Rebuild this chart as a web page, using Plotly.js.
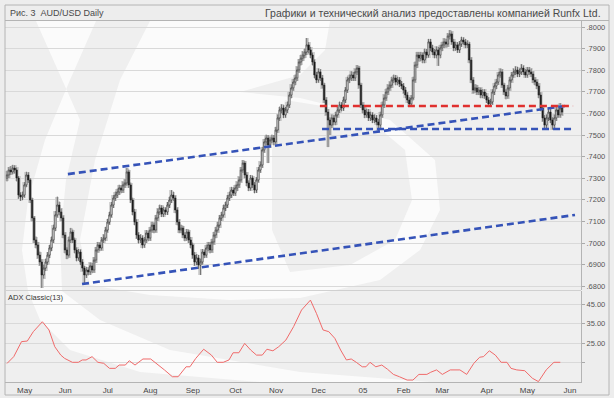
<!DOCTYPE html>
<html><head><meta charset="utf-8">
<script src="https://cdn.plot.ly/plotly-3.0.1.min.js"></script>
<style>html,body{margin:0;padding:0;background:#ededed}#chart{width:614px;height:398px}</style>
</head><body><div id="chart"></div>
<script>
// ---- DATA (AUD/USD daily) ----
const openP = [.7300,.7315,.7338,.7329,.7347,.7338,.7301,.7222,.7213,.7222,.7269,.7315,.7292,.7199,.7116,.7014,.6991,.6944,.6912,.6852,
.6884,.6912,.6944,.6977,.7014,.7069,.7130,.7176,.7144,.7116,.7037,.6968,.6944,.7014,.7051,.7014,.6968,.6931,.6958,.6912,
.6884,.6852,.6875,.6866,.6894,.6875,.6921,.6968,.6991,.6977,.7014,.7023,.7060,.7097,.7130,.7176,.7208,.7222,.7236,.7255,
.7245,.7269,.7278,.7329,.7269,.7199,.7144,.7097,.7037,.7014,.7023,.6991,.7014,.7046,.7023,.7060,.7083,.7060,.7116,.7144,
.7162,.7134,.7153,.7144,.7176,.7199,.7222,.7208,.7153,.7097,.7060,.7069,.7037,.7023,.7051,.7014,.6991,.6944,.6912,.6931,
.6898,.6912,.6958,.6944,.6977,.6991,.6968,.7005,.7037,.7060,.7083,.7116,.7130,.7162,.7176,.7208,.7222,.7245,.7231,.7255,
.7269,.7292,.7338,.7370,.7315,.7278,.7255,.7301,.7269,.7245,.7292,.7338,.7361,.7431,.7468,.7486,.7454,.7477,.7486,.7468,
.7523,.7579,.7616,.7625,.7593,.7616,.7639,.7685,.7718,.7745,.7764,.7801,.7838,.7856,.7870,.7884,.7917,.7894,.7870,.7838,
.7778,.7755,.7792,.7764,.7731,.7662,.7606,.7569,.7546,.7579,.7560,.7593,.7616,.7639,.7625,.7662,.7708,.7755,.7764,.7778,
.7764,.7792,.7810,.7731,.7639,.7616,.7593,.7606,.7579,.7593,.7569,.7579,.7560,.7546,.7593,.7639,.7671,.7699,.7718,.7731,
.7755,.7764,.7745,.7755,.7736,.7727,.7708,.7685,.7662,.7644,.7671,.7755,.7824,.7870,.7856,.7870,.7847,.7884,.7870,.7931,
.7903,.7884,.7870,.7894,.7870,.7903,.7917,.7931,.7921,.7958,.7968,.7931,.7903,.7917,.7894,.7921,.7940,.7931,.7917,.7921,
.7847,.7755,.7708,.7718,.7699,.7708,.7685,.7699,.7681,.7662,.7644,.7653,.7699,.7727,.7745,.7778,.7792,.7731,.7699,.7681,
.7718,.7755,.7778,.7792,.7801,.7782,.7792,.7810,.7792,.7778,.7801,.7792,.7782,.7755,.7745,.7727,.7685,.7625,.7579,.7546,
.7579,.7606,.7569,.7546,.7579,.7616,.7593,.7625];
const highP = [.7335,.7352,.7356,.7362,.7360,.7350,.7310,.7235,.7238,.7282,.7330,.7328,.7300,.7210,.7125,.7030,.7005,.6960,.6925,.6900,
.6928,.6958,.6992,.7030,.7085,.7148,.7215,.7192,.7160,.7128,.7050,.6980,.7030,.7070,.7062,.7025,.6980,.6972,.6970,.6925,
.6895,.6890,.6888,.6910,.6908,.6935,.6982,.7005,.7003,.7028,.7040,.7075,.7112,.7145,.7190,.7222,.7238,.7252,.7270,.7268,
.7285,.7295,.7347,.7340,.7280,.7210,.7158,.7110,.7050,.7040,.7035,.7028,.7060,.7058,.7075,.7098,.7095,.7130,.7160,.7178,
.7175,.7168,.7165,.7190,.7215,.7245,.7238,.7220,.7165,.7110,.7085,.7080,.7050,.7065,.7062,.7028,.7002,.6958,.6948,.6945,
.6928,.6972,.6970,.6992,.7005,.7005,.7020,.7052,.7075,.7098,.7130,.7145,.7178,.7192,.7222,.7238,.7260,.7258,.7270,.7285,
.7308,.7352,.7384,.7380,.7328,.7290,.7315,.7312,.7282,.7305,.7352,.7378,.7445,.7482,.7502,.7500,.7492,.7502,.7500,.7538,
.7595,.7632,.7642,.7638,.7630,.7655,.7700,.7735,.7760,.7780,.7818,.7852,.7872,.7888,.7900,.7949,.7930,.7908,.7882,.7850,
.7792,.7808,.7805,.7778,.7742,.7675,.7620,.7582,.7595,.7592,.7608,.7630,.7655,.7652,.7678,.7722,.7770,.7780,.7795,.7792,
.7808,.7824,.7820,.7742,.7652,.7630,.7622,.7620,.7608,.7605,.7595,.7592,.7575,.7608,.7655,.7688,.7715,.7735,.7748,.7770,
.7780,.7778,.7770,.7768,.7750,.7740,.7722,.7698,.7675,.7685,.7770,.7840,.7885,.7885,.7885,.7882,.7900,.7898,.7945,.7945,
.7918,.7898,.7910,.7908,.7918,.7932,.7948,.7945,.7972,.7986,.7980,.7945,.7932,.7930,.7935,.7955,.7952,.7945,.7938,.7932,
.7860,.7768,.7735,.7732,.7722,.7720,.7712,.7712,.7695,.7675,.7668,.7712,.7742,.7760,.7792,.7808,.7805,.7742,.7712,.7732,
.7770,.7792,.7808,.7818,.7815,.7808,.7828,.7822,.7805,.7815,.7815,.7808,.7795,.7768,.7758,.7740,.7698,.7638,.7592,.7595,
.7622,.7620,.7582,.7595,.7632,.7640,.7648,.7640];
const lowP = [.7285,.7300,.7315,.7318,.7322,.7285,.7205,.7195,.7198,.7210,.7258,.7278,.7185,.7100,.7000,.6975,.6928,.6895,.6792,.6835,
.6870,.6898,.6930,.6962,.7000,.7055,.7118,.7128,.7100,.7022,.6952,.6925,.6932,.7000,.7000,.6952,.6915,.6918,.6898,.6868,
.6815,.6838,.6850,.6852,.6860,.6862,.6908,.6955,.6962,.6965,.7000,.7010,.7048,.7085,.7118,.7162,.7195,.7208,.7222,.7230,
.7232,.7255,.7265,.7255,.7185,.7128,.7082,.7020,.6998,.7000,.6975,.6978,.7000,.7008,.7010,.7048,.7045,.7048,.7102,.7130,
.7120,.7120,.7130,.7130,.7162,.7185,.7195,.7138,.7082,.7045,.7045,.7022,.7008,.7010,.7000,.6975,.6928,.6895,.6898,.6880,
.6852,.6900,.6930,.6932,.6962,.6952,.6955,.6992,.7022,.7048,.7070,.7102,.7118,.7148,.7162,.7195,.7208,.7218,.7218,.7240,
.7255,.7280,.7325,.7300,.7262,.7240,.7242,.7255,.7230,.7232,.7280,.7325,.7348,.7418,.7452,.7370,.7440,.7462,.7452,.7455,
.7510,.7565,.7600,.7578,.7580,.7602,.7625,.7670,.7705,.7730,.7750,.7788,.7822,.7842,.7855,.7870,.7878,.7855,.7822,.7762,
.7740,.7742,.7750,.7715,.7648,.7590,.7444,.7500,.7532,.7545,.7545,.7580,.7602,.7610,.7612,.7648,.7695,.7740,.7750,.7750,
.7750,.7778,.7715,.7625,.7600,.7578,.7580,.7565,.7565,.7555,.7555,.7545,.7514,.7532,.7580,.7625,.7658,.7685,.7705,.7718,
.7740,.7730,.7730,.7722,.7712,.7692,.7670,.7648,.7630,.7632,.7660,.7742,.7810,.7840,.7842,.7832,.7832,.7855,.7858,.7888,
.7870,.7855,.7855,.7820,.7855,.7888,.7902,.7905,.7908,.7942,.7918,.7888,.7890,.7880,.7880,.7908,.7918,.7902,.7902,.7832,
.7740,.7692,.7695,.7685,.7685,.7670,.7670,.7668,.7648,.7632,.7632,.7640,.7685,.7712,.7732,.7765,.7718,.7685,.7665,.7668,
.7705,.7742,.7765,.7778,.7768,.7768,.7778,.7778,.7765,.7765,.7778,.7768,.7740,.7730,.7712,.7670,.7610,.7562,.7528,.7532,
.7565,.7555,.7525,.7532,.7565,.7580,.7580,.7590];
const closeP = [.7315,.7338,.7329,.7347,.7338,.7301,.7222,.7213,.7222,.7269,.7315,.7292,.7199,.7116,.7014,.6991,.6944,.6912,.6852,.6884,
.6912,.6944,.6977,.7014,.7069,.7130,.7176,.7144,.7116,.7037,.6968,.6944,.7014,.7051,.7014,.6968,.6931,.6958,.6912,.6884,
.6852,.6875,.6866,.6894,.6875,.6921,.6968,.6991,.6977,.7014,.7023,.7060,.7097,.7130,.7176,.7208,.7222,.7236,.7255,.7245,
.7269,.7278,.7329,.7269,.7199,.7144,.7097,.7037,.7014,.7023,.6991,.7014,.7046,.7023,.7060,.7083,.7060,.7116,.7144,.7162,
.7134,.7153,.7144,.7176,.7199,.7222,.7208,.7153,.7097,.7060,.7069,.7037,.7023,.7051,.7014,.6991,.6944,.6912,.6931,.6898,
.6912,.6958,.6944,.6977,.6991,.6968,.7005,.7037,.7060,.7083,.7116,.7130,.7162,.7176,.7208,.7222,.7245,.7231,.7255,.7269,
.7292,.7338,.7370,.7315,.7278,.7255,.7301,.7269,.7245,.7292,.7338,.7361,.7431,.7468,.7486,.7454,.7477,.7486,.7468,.7523,
.7579,.7616,.7625,.7593,.7616,.7639,.7685,.7718,.7745,.7764,.7801,.7838,.7856,.7870,.7884,.7917,.7894,.7870,.7838,.7778,
.7755,.7792,.7764,.7731,.7662,.7606,.7569,.7546,.7579,.7560,.7593,.7616,.7639,.7625,.7662,.7708,.7755,.7764,.7778,.7764,
.7792,.7810,.7731,.7639,.7616,.7593,.7606,.7579,.7593,.7569,.7579,.7560,.7546,.7593,.7639,.7671,.7699,.7718,.7731,.7755,
.7764,.7745,.7755,.7736,.7727,.7708,.7685,.7662,.7644,.7671,.7755,.7824,.7870,.7856,.7870,.7847,.7884,.7870,.7931,.7903,
.7884,.7870,.7894,.7870,.7903,.7917,.7931,.7921,.7958,.7968,.7931,.7903,.7917,.7894,.7921,.7940,.7931,.7917,.7921,.7847,
.7755,.7708,.7718,.7699,.7708,.7685,.7699,.7681,.7662,.7644,.7653,.7699,.7727,.7745,.7778,.7792,.7731,.7699,.7681,.7718,
.7755,.7778,.7792,.7801,.7782,.7792,.7810,.7792,.7778,.7801,.7792,.7782,.7755,.7745,.7727,.7685,.7625,.7579,.7546,.7579,
.7606,.7569,.7546,.7579,.7616,.7593,.7625,.7606];

// trading-day index where each month begins, and its label
const monthStartIdx = [6,27,49,71,93,115,136,158,181,202,222,245,266,288];
const monthLabels = ['May','Jun','Jul','Aug','Sep','Oct','Nov','Dec','05','Feb','Mar','Apr','May','Jun'];
const priceTicks = [0.68,0.69,0.70,0.71,0.72,0.73,0.74,0.75,0.76,0.77,0.78,0.79,0.80];
const priceTickText = ['.6800','.6900','.7000','.7100','.7200','.7300','.7400','.7500','.7600','.7700','.7800','.7900','.8000'];

// ADX Classic(13)
const adxIdx = [0,3.5,7.5,10.5,13.6,18.3,21.7,24.7,27.8,29.8,33.8,36.9,38.9,40.9,44,47,50,53,56,58,61.2,63.2,66.2,70.3,74.3,78.4,81.4,85.5,88.5,92.6,
94.6,97.6,101.7,105.7,108.7,111.8,114.8,116.9,119.9,122.9,126,129,132,134.4,137.5,140.5,144.2,148.2,152.3,156.9,160,163.4,166.4,169.5,172.5,175.5,178,180.6,183.7,185.6,
187.7,190.7,193.8,196.8,199.8,202.9,206.9,209.9,213,217.1,219.1,222.1,225.1,229.2,234.2,237.7,241.4,244.4,246.4,249.4,252.5,255.5,258.5,260.6,263.6,267.7,271.7,274.8,278.8,282.8,286.1];
const adxVal = [14.5,18,25.7,26,30.8,35.9,31.7,23.1,18.8,17.1,15.1,15.1,16.3,16.3,18,15.1,14.6,12,12,13.7,13.7,15.9,13.7,16.8,16.8,13.7,11.2,7.7,7.7,12.8,
12.8,17.1,21.8,18.8,15.1,15.1,16.3,20,20,24.8,21.4,18.8,18.8,21.8,21,23.1,26.5,33.4,41.9,47,40.2,31.7,30.8,27.4,21.4,16.3,16.8,15.1,12.8,12.8,
15.1,12.8,13.7,11.5,8.9,7.7,6,6,8.9,8.9,10,11.2,8.9,11.2,11.2,8.9,14.6,17.7,18,21,18.8,15.1,15.1,12,11.2,10.8,6.9,5.2,11.2,15.1,15.1];
const adxTicks = [15,25,35,45];
const adxTickText = ['','25.00','35.00','45.00'];

// drawn levels / trend lines
const resistanceRed = {x:[161.8,292.7], y:[0.7634,0.7634]};
const supportBlue   = {x:[162.9,293.7], y:[0.7528,0.7528]};
const upperTrend    = {x:[31.5,288.5],  y:[0.7319,0.7634]};
const lowerTrend    = {x:[38.8,293.7],  y:[0.6810,0.7130]};

// ---- CHART ----
const dayIdx = closeP.map((_, i) => i);
const dashBlue = {color:'#3553b8', width:2.6, dash:'7px,4px'};
const dashRed  = {color:'#e0302e', width:2.6, dash:'7px,4px'};

const traces = [
  {type:'bar', x:dayIdx, base:lowP, y:highP.map((h,i)=>h-lowP[i]), width:2.0,
   marker:{color:'#cdcdcd', line:{width:0}}, opacity:0.85, xaxis:'x', yaxis:'y', hoverinfo:'skip'},
  {type:'candlestick', x:dayIdx, open:openP, high:highP, low:lowP, close:closeP,
   increasing:{line:{color:'#222', width:0.6}, fillcolor:'#ffffff'},
   decreasing:{line:{color:'#222', width:0.6}, fillcolor:'#151515'},
   whiskerwidth:0, xaxis:'x', yaxis:'y', hoverinfo:'skip'},
  {type:'scatter', mode:'lines', x:upperTrend.x, y:upperTrend.y, line:dashBlue, xaxis:'x', yaxis:'y'},
  {type:'scatter', mode:'lines', x:lowerTrend.x, y:lowerTrend.y, line:dashBlue, xaxis:'x', yaxis:'y'},
  {type:'scatter', mode:'lines', x:supportBlue.x, y:supportBlue.y, line:dashBlue, xaxis:'x', yaxis:'y'},
  {type:'scatter', mode:'lines', x:resistanceRed.x, y:resistanceRed.y, line:dashRed, xaxis:'x', yaxis:'y'},
  {type:'scatter', mode:'lines', x:adxIdx, y:adxVal, line:{color:'#f06a6a', width:1}, xaxis:'x', yaxis:'y2'}
];

// pixel -> paper helpers (plot area: x 5..581, y 21..382)
const PX = px => (px - 5) / 576;
const PY = py => (382 - py) / 361;
const P = pts => pts.map((p,k) => (k===0?'M':'L') + PX(p[0]).toFixed(4) + ',' + PY(p[1]).toFixed(4)).join(' ') + ' Z';
const line = (x0,y0,x1,y1,c,w) => ({type:'line', xref:'paper', yref:'paper', x0:PX(x0), y0:PY(y0), x1:PX(x1), y1:PY(y1), line:{color:c, width:w}, layer:'above'});
const wm = path => ({type:'path', xref:'paper', yref:'paper', path:path, fillcolor:'#fbfbfb', line:{width:0}, layer:'below'});

const shapes = [
  // faint watermark (logo swooshes)
  wm(P([[36,21],[96,21],[70,80],[45,140],[28,200],[22,250],[28,291],[40,320],[70,350],[140,372],[260,382],[430,382],[300,372],[170,350],[100,320],[62,291],[60,240],[66,180],[80,120]])),
  wm(P([[150,21],[330,21],[325,50],[300,75],[240,92],[300,98],[390,120],[435,160],[440,210],[420,250],[380,280],[300,298],[230,300],[150,295],[90,285],[80,240],[95,160],[120,80]])),
  {type:'path', xref:'paper', yref:'paper', fillcolor:'#efefef', line:{width:0}, layer:'below',
   path:P([[285,100],[360,112],[405,150],[412,200],[395,240],[350,265],[290,272],[272,230],[272,150]])},
  {type:'rect', xref:'paper', yref:'paper', x0:PX(5), y0:PY(395), x1:PX(609), y1:PY(5), line:{color:'#b4b4b4', width:1}, layer:'above'},
  line(5,20.5,609,20.5,'#b4b4b4',1),
  line(5,290.5,581,290.5,'#d0d0d0',1)
];

const font = 'Liberation Sans, Arial, sans-serif';
const annotations = [
  {xref:'paper', yref:'paper', x:PX(8), y:PY(13), xanchor:'left', yanchor:'middle', showarrow:false,
   text:'Рис. 3  AUD/USD Daily', font:{family:font, size:9, color:'#4a4a4a'}},
  {xref:'paper', yref:'paper', x:PX(603), y:PY(13), xanchor:'right', yanchor:'middle', showarrow:false,
   text:'Графики и технический анализ предоставлены компанией Runfx Ltd.', font:{family:font, size:10.5, color:'#4a4a4a'}},
  {xref:'paper', yref:'paper', x:PX(6), y:PY(297), xanchor:'left', yanchor:'middle', showarrow:false,
   text:'ADX Classic(13)', font:{family:font, size:7.5, color:'#333'}}
];

const layout = {
  width:614, height:398, margin:{l:5, r:33, t:21, b:16},
  paper_bgcolor:'#ededed', plot_bgcolor:'#efefef',
  showlegend:false, bargap:0, boxgap:0.3, boxgroupgap:0, dragmode:false,
  xaxis:{range:[-1.03,296.8], anchor:'y2', tickvals:monthStartIdx, ticktext:monthLabels,
    ticks:'', ticklabelshift:6, ticklabelstandoff:0, showgrid:false, zeroline:false, showline:true, linecolor:'#b4b4b4',
    tickfont:{family:font, size:8, color:'#444'}, rangeslider:{visible:false}, fixedrange:true},
  yaxis:{domain:[0.2548,1], range:[0.67824,0.80278], side:'right', tickvals:priceTicks, ticktext:priceTickText,
    ticks:'outside', ticklen:3, tickcolor:'#aaa', showgrid:true, gridcolor:'#d9d9d9', gridwidth:1, zeroline:false,
    showline:true, linecolor:'#b4b4b4', tickfont:{family:font, size:7.5, color:'#555'}, fixedrange:true},
  yaxis2:{domain:[0,0.2521], range:[5,51.67], side:'right', tickvals:adxTicks, ticktext:adxTickText,
    ticks:'outside', ticklen:3, tickcolor:'#aaa', showgrid:true, gridcolor:'#d9d9d9', gridwidth:1, zeroline:false,
    showline:true, linecolor:'#b4b4b4', tickfont:{family:font, size:7.5, color:'#555'}, fixedrange:true},
  shapes:shapes, annotations:annotations
};

Plotly.newPlot('chart', traces, layout, {staticPlot:true, displayModeBar:false});
</script></body></html>
